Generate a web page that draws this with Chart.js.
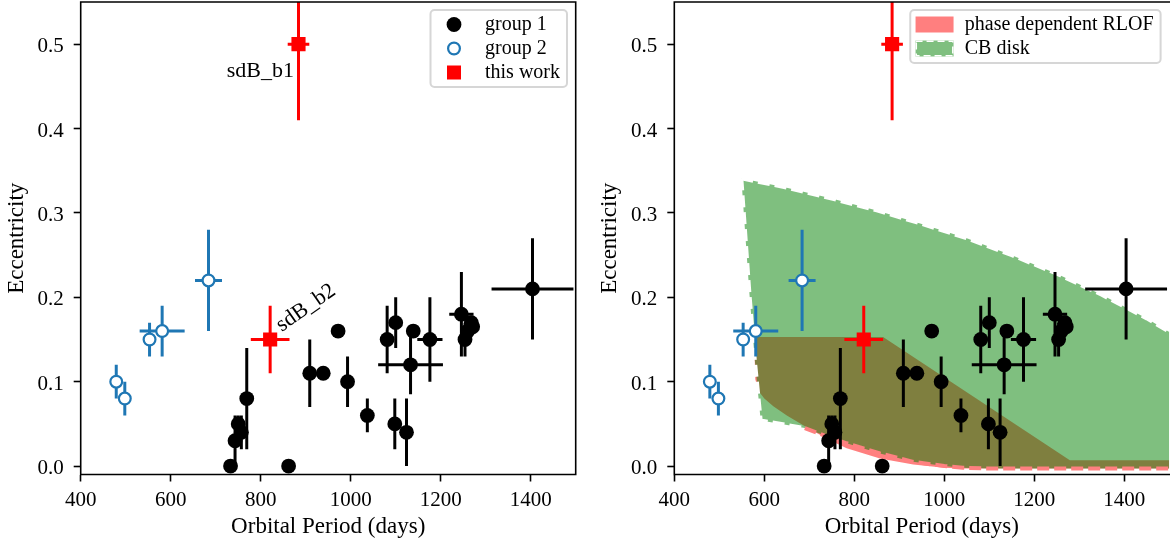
<!DOCTYPE html>
<html><head><meta charset="utf-8">
<script src="https://cdn.jsdelivr.net/npm/chart.js@4.4.1/dist/chart.umd.min.js"></script>
<style>
html,body{margin:0;padding:0;background:#fff;overflow:hidden;width:1170px;height:544px;}
#wrapL{position:absolute;left:0;top:0;width:590px;height:544px;}
#wrapR{position:absolute;left:590px;top:0;width:590px;height:544px;}
canvas{display:block;}
</style></head><body>
<div id="wrapL"><canvas id="cL" width="590" height="544"></canvas></div>
<div id="wrapR"><canvas id="cR" width="590" height="544"></canvas></div>
<script>
// ---------------- data ----------------
const xTickValues = [400, 600, 800, 1000, 1200, 1400];
const xTickLabels = ['400', '600', '800', '1000', '1200', '1400'];
const yTickValues = [0, 0.1, 0.2, 0.3, 0.4, 0.5];
const yTickLabels = ['0.0', '0.1', '0.2', '0.3', '0.4', '0.5'];

// group 1 (filled black)
const g1Period = [733, 743, 750, 757, 769, 862, 909, 939, 972, 993, 1037, 1081, 1100, 1098, 1124, 1133, 1139, 1176, 1246, 1254, 1260, 1268, 1271, 1404];
const g1Ecc    = [0.00, 0.03, 0.05, 0.04, 0.08, 0.00, 0.11, 0.11, 0.16, 0.10, 0.06, 0.15, 0.17, 0.05, 0.04, 0.12, 0.16, 0.15, 0.18, 0.15, 0.16, 0.17, 0.165, 0.21];
const g1EccErr = [0, 0.03, 0.01, 0.02, 0.06, 0, 0.04, 0, 0, 0.03, 0.02, 0.04, 0.03, 0.03, 0.04, 0.035, 0, 0.05, 0.05, 0.02, 0, 0, 0, 0.06];
const g1PerErr = [0, 0, 0, 0, 0, 0, 0, 0, 0, 0, 0, 0, 0, 0, 0, 72, 0, 28, 27, 0, 0, 0, 0, 91];

// group 2 (open blue)
const g2Period = [479, 498, 553, 581, 684];
const g2Ecc    = [0.10, 0.08, 0.15, 0.16, 0.22];
const g2EccErr = [0.02, 0.02, 0.02, 0.03, 0.06];
const g2PerErr = [0, 0, 0, 50, 30];

// this work (red squares)
const twNames  = ['sdB_b1', 'sdB_b2'];
const twPeriod = [884, 821];
const twEcc    = [0.50, 0.15];
const twEccErr = [0.09, 0.04];
const twPerErr = [24, 43];

// phase dependent RLOF region
const rlofUpperP = [578, 864, 1279, 1500];
const rlofUpperE = [0.153, 0.153, 0.007, 0.007];
const rlofLowerP = [578, 578.5, 580, 587, 600, 620, 650, 694, 740, 783, 857, 931, 1000, 1041, 1500];
const rlofLowerE = [0.153, 0.125, 0.103, 0.089, 0.080, 0.071, 0.060, 0.046, 0.032, 0.021, 0.009, 0.002, -0.002, -0.003, -0.003];

// CB disk region
const cbUpperP = [549, 650, 750, 850, 950, 1050, 1150, 1250, 1350, 1450, 1500];
const cbUpperE = [0.341, 0.330, 0.317, 0.303, 0.287, 0.270, 0.250, 0.228, 0.203, 0.175, 0.159];
const cbLowerP = [549, 567, 579, 592, 690, 740, 783, 857, 931, 1000, 1041, 1100, 1500];
const cbLowerE = [0.341, 0.204, 0.125, 0.054, 0.045, 0.035, 0.027, 0.015, 0.005, 0.000, -0.002, -0.003, -0.003];
const cbEdgeSplitP = 690; // where the disk's lower edge runs over the RLOF band

// ---------------- styles ----------------
const FONT = '"Liberation Serif", "Times New Roman", serif';
const BLUE = '#1f77b4';
const RED = '#ff0000';
const RLOF_COLOR = 'rgba(255,0,0,0.5)';
const CB_COLOR = 'rgba(0,128,0,0.5)';
Chart.defaults.color = '#000';
Chart.defaults.font.family = FONT;

const pts = (P, E) => P.map((p, i) => ({x: p, y: E[i]}));
const vBars = (P, E, err) => P.flatMap((p, i) => err[i] > 0 ? [{x: p, y: E[i] - err[i]}, {x: p, y: E[i] + err[i]}, {x: p, y: null}] : []);
const hBars = (P, E, err) => P.flatMap((p, i) => err[i] > 0 ? [{x: p - err[i], y: E[i]}, {x: p + err[i], y: E[i]}, {x: p + err[i], y: null}] : []);
const barDs = (data, color, order) => ({label: 'bars', data, borderColor: color, borderWidth: 3, borderCapStyle: 'butt', pointRadius: 0, pointHoverRadius: 0, fill: false, showLine: true, order});
const edgeDs = (data, color, order) => ({label: 'edge', data, borderColor: color, borderWidth: 4, borderDash: [12, 5], fill: false, pointRadius: 0, pointHoverRadius: 0, order});

function panelDatasets(withFills) {
  const ds = [];
  ds.push({label: 'this work', data: pts(twPeriod, twEcc), showLine: false, pointStyle: 'rect', pointRadius: 10, pointHoverRadius: 10,
           pointBackgroundColor: RED, pointBorderWidth: 0, order: 0});
  ds.push(barDs(vBars(twPeriod, twEcc, twEccErr), RED, 1));
  ds.push(barDs(hBars(twPeriod, twEcc, twPerErr), RED, 1));
  ds.push({label: 'group 2', data: pts(g2Period, g2Ecc), showLine: false, pointStyle: 'circle', pointRadius: 5.9, pointHoverRadius: 5.9,
           pointBackgroundColor: '#fff', pointBorderColor: BLUE, pointBorderWidth: 2.2, order: 2});
  ds.push(barDs(vBars(g2Period, g2Ecc, g2EccErr), BLUE, 3));
  ds.push(barDs(hBars(g2Period, g2Ecc, g2PerErr), BLUE, 3));
  ds.push({label: 'group 1', data: pts(g1Period, g1Ecc), showLine: false, pointStyle: 'circle', pointRadius: 7.4, pointHoverRadius: 7.4,
           pointBackgroundColor: '#000', pointBorderWidth: 0, order: 4});
  ds.push(barDs(vBars(g1Period, g1Ecc, g1EccErr), '#000', 5));
  ds.push(barDs(hBars(g1Period, g1Ecc, g1PerErr), '#000', 5));
  if (withFills) {
    const lowPts = pts(cbLowerP, cbLowerE);
    ds.push(edgeDs(lowPts.filter(p => p.x <= cbEdgeSplitP), '#fff', 9));
    ds.push(edgeDs(lowPts.filter(p => p.x >= cbEdgeSplitP), 'rgb(255,128,128)', 9));
    const iCbLow = ds.length + 1;
    const iRlLow = ds.length + 3;
    ds.push({label: 'CB disk', data: pts(cbUpperP, cbUpperE), borderColor: '#fff', borderWidth: 4, borderDash: [12, 5],
             backgroundColor: CB_COLOR, fill: {target: iCbLow}, pointRadius: 0, pointHoverRadius: 0, order: 11});
    ds.push({label: 'CB disk low', data: lowPts, borderColor: 'rgba(0,0,0,0)', borderWidth: 0,
             fill: false, pointRadius: 0, pointHoverRadius: 0, order: 10});
    ds.push({label: 'phase dependent RLOF', data: pts(rlofUpperP, rlofUpperE), borderColor: 'rgba(0,0,0,0)', borderWidth: 0,
             backgroundColor: RLOF_COLOR, fill: {target: iRlLow}, pointRadius: 0, pointHoverRadius: 0, order: 21});
    ds.push({label: 'RLOF low', data: pts(rlofLowerP, rlofLowerE), borderColor: 'rgba(0,0,0,0)', borderWidth: 0,
             fill: false, pointRadius: 0, pointHoverRadius: 0, order: 20});
  }
  return ds;
}

// ---------------- plugins ----------------
const framePlugin = {
  id: 'frame',
  afterDatasetsDraw(chart, args, opts) {
    const {ctx, chartArea: a} = chart;
    ctx.save();
    ctx.strokeStyle = '#000';
    ctx.lineWidth = 1.6;
    ctx.beginPath();
    ctx.moveTo(a.left, a.top); ctx.lineTo(a.left, a.bottom);
    ctx.moveTo(a.left - 0.8, a.bottom); ctx.lineTo(a.right + 0.8, a.bottom);
    ctx.moveTo(a.left - 0.8, a.top); ctx.lineTo(a.right + 0.8, a.top);
    if (opts.right !== false) { ctx.moveTo(a.right, a.top); ctx.lineTo(a.right, a.bottom); }
    ctx.stroke();
    ctx.restore();
  }
};

const annotPlugin = {
  id: 'annot',
  afterDatasetsDraw(chart, args, opts) {
    const items = opts.items || [];
    const {ctx} = chart;
    items.forEach(it => {
      const x = chart.scales.x.getPixelForValue(it.x);
      const y = chart.scales.y.getPixelForValue(it.y);
      ctx.save();
      ctx.translate(x, y);
      ctx.rotate(-it.rot * Math.PI / 180);
      ctx.font = '22px ' + FONT;
      ctx.fillStyle = '#000';
      ctx.textAlign = it.align;
      ctx.textBaseline = 'alphabetic';
      ctx.fillText(it.text, 0, 0);
      ctx.restore();
    });
  }
};

const boxLegend = {
  id: 'boxLegend',
  afterDraw(chart, args, opts) {
    const items = opts.items;
    if (!items || !items.length) return;
    const {ctx, chartArea: a} = chart;
    ctx.save();
    ctx.font = '20px ' + FONT;
    const tw = Math.max(...items.map(it => ctx.measureText(it.label).width));
    const w = 54.5 + tw + 7;
    const h = 29 + 24 * (items.length - 1);
    const right = a.right - 8.7;
    const left = right - w;
    const top = a.top + 8;
    ctx.beginPath();
    ctx.roundRect(left, top, w, h, 4);
    ctx.fillStyle = 'rgba(255,255,255,0.8)';
    ctx.fill();
    ctx.lineWidth = 2;
    ctx.strokeStyle = 'rgb(214,214,214)';
    ctx.stroke();
    items.forEach((it, i) => {
      const cy = top + 14.5 + 24 * i;
      const cx = left + 23.5;
      ctx.save();
      if (it.type === 'dot') {
        ctx.beginPath(); ctx.arc(cx, cy, 7.4, 0, Math.PI * 2); ctx.fillStyle = '#000'; ctx.fill();
      } else if (it.type === 'ring') {
        ctx.beginPath(); ctx.arc(cx, cy, 5.9, 0, Math.PI * 2); ctx.fillStyle = '#fff'; ctx.fill();
        ctx.lineWidth = 2.2; ctx.strokeStyle = BLUE; ctx.stroke();
      } else if (it.type === 'square') {
        ctx.fillStyle = RED; ctx.fillRect(cx - 7, cy - 7, 14, 14);
      } else if (it.type === 'patch') {
        ctx.fillStyle = it.color; ctx.fillRect(left + 5.3, cy - 8, 38, 16);
      } else if (it.type === 'patchDash') {
        ctx.fillStyle = it.color; ctx.fillRect(left + 5.3, cy - 8, 38, 16);
        ctx.beginPath(); ctx.rect(left + 5.3, cy - 8, 38, 16); ctx.clip();
        ctx.setLineDash([7, 4]); ctx.lineWidth = 3; ctx.strokeStyle = '#fff';
        ctx.strokeRect(left + 5.3, cy - 8, 38, 16);
      }
      ctx.restore();
      ctx.fillStyle = '#000';
      ctx.textAlign = 'left';
      ctx.textBaseline = 'alphabetic';
      ctx.fillText(it.label, left + 54.5, cy + 5.6);
    });
    ctx.restore();
  }
};

// ---------------- options ----------------
function makeOptions(cfg) {
  const gridCfg = {drawOnChartArea: false, drawTicks: true, tickLength: 7, tickWidth: 1.6, tickColor: '#000'};
  const noPad = s => { s.paddingTop = 0; s.paddingBottom = 0; s.paddingLeft = 0; s.paddingRight = 0; };
  return {
    responsive: false, animation: false, devicePixelRatio: 1, events: [],
    layout: {autoPadding: false, padding: {left: 0, right: cfg.padRight, top: 2, bottom: 0}},
    plugins: {
      legend: {display: false}, tooltip: {enabled: false},
      boxLegend: {items: cfg.legend}, annot: {items: cfg.annots || []}, frame: {right: cfg.frameRight}
    },
    scales: {
      x: {
        type: 'linear', min: 400, max: 1500,
        afterBuildTicks: s => { s.ticks = xTickValues.map(v => ({value: v})); },
        afterFit: s => { s.height = 69.5; noPad(s); },
        ticks: {font: {family: FONT, size: 21}, color: '#000', padding: 6, maxRotation: 0, autoSkip: false,
                callback: (v, i) => xTickLabels[i]},
        grid: gridCfg, border: {display: false},
        title: {display: true, text: 'Orbital Period (days)', color: '#000', font: {family: FONT, size: 23}, padding: {top: 0, bottom: 3.5}}
      },
      y: {
        type: 'linear', min: -0.01, max: 0.55,
        afterBuildTicks: s => { s.ticks = yTickValues.map(v => ({value: v})); },
        afterFit: s => { s.width = cfg.yWidth; noPad(s); },
        ticks: {font: {family: FONT, size: 21}, color: '#000', padding: 10, labelOffset: 2.5, autoSkip: false,
                callback: (v, i) => yTickLabels[i]},
        grid: gridCfg, border: {display: false},
        title: {display: true, text: 'Eccentricity', color: '#000', font: {family: FONT, size: 23}, padding: {top: cfg.yTitlePad, bottom: 0}}
      }
    }
  };
}

const plugins = [framePlugin, annotPlugin, boxLegend];

new Chart(document.getElementById('cL'), {
  type: 'line',
  data: {datasets: panelDatasets(false)},
  options: makeOptions({
    padRight: 14.3, yWidth: 80.7, yTitlePad: 3, frameRight: true,
    legend: [{label: 'group 1', type: 'dot'}, {label: 'group 2', type: 'ring'}, {label: 'this work', type: 'square'}],
    annots: [
      {text: twNames[0], x: 874, y: 0.4615, align: 'right', rot: 0},
      {text: twNames[1], x: 846.7, y: 0.159, align: 'left', rot: 35}
    ]
  }),
  plugins
});

new Chart(document.getElementById('cR'), {
  type: 'line',
  data: {datasets: panelDatasets(true)},
  options: makeOptions({
    padRight: 10.7, yWidth: 84.3, yTitlePad: 6, frameRight: false,
    legend: [{label: 'phase dependent RLOF', type: 'patch', color: RLOF_COLOR}, {label: 'CB disk', type: 'patchDash', color: CB_COLOR}]
  }),
  plugins
});
</script>
</body></html>
